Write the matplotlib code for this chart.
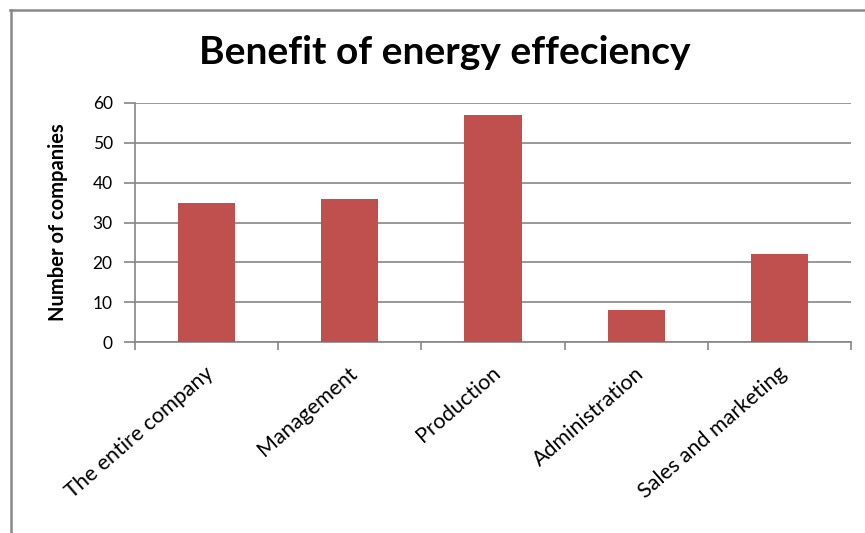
import numpy as np
import matplotlib.pyplot as plt
import matplotlib.transforms as mtransforms
from matplotlib.lines import Line2D

# Данные
departments = ['The entire company', 'Management', 'Production',
               'Administration', 'Sales and marketing']
companies = [35, 36, 57, 8, 22]

plt.rcParams['font.family'] = ['Lato', 'DejaVu Sans']

fig = plt.figure(figsize=(8.65, 5.33), dpi=100)
ax = fig.add_axes([0.156, 0.358, 0.828, 0.449])

x = np.arange(len(departments))
ax.bar(x, companies, width=0.4, color='#c0504d', zorder=3)

ax.set_xlim(-0.5, len(departments) - 0.5)
ax.set_ylim(0, 60)
ax.set_yticks(range(0, 61, 10))
ax.yaxis.grid(True, color='#868686', linewidth=1.2, zorder=0)

# Засечки между категориями, подписи по центру
ax.set_xticks(np.arange(-0.5, len(departments), 1.0))
ax.set_xticklabels([])
ax.set_xticks(x, minor=True)
ax.set_xticklabels(departments, minor=True, rotation=41, ha='right',
                   rotation_mode='anchor', fontsize=15.5)
ax.tick_params(axis='x', which='minor', length=0, pad=15)
ax.tick_params(axis='x', which='major', length=6, width=1.2, color='#868686')
ax.tick_params(axis='y', length=8, width=1.2, color='#868686', labelsize=12.5, pad=8)
shift = mtransforms.ScaledTranslation(-0.02, 0, fig.dpi_scale_trans)
for lbl in ax.get_xticklabels(minor=True):
    lbl.set_transform(lbl.get_transform() + shift)

for side in ('top', 'right'):
    ax.spines[side].set_visible(False)
for side in ('left', 'bottom'):
    ax.spines[side].set_color('#868686')
    ax.spines[side].set_linewidth(1.2)

ax.set_ylabel('Number of companies', fontsize=14.5, fontweight='bold', labelpad=18)

fig.text(0.514, 0.902, 'Benefit of energy effeciency', ha='center', va='center',
         fontsize=28, fontweight='bold')

# Рамка диаграммы
fig.add_artist(Line2D([10.5 / 865, 10.5 / 865], [0, 1 - 10 / 533],
                      transform=fig.transFigure, color='#888888', linewidth=1.8))
fig.add_artist(Line2D([10 / 865, 1], [1 - 10 / 533, 1 - 10 / 533],
                      transform=fig.transFigure, color='#888888', linewidth=1.8))

fig.savefig('out.png', dpi=100)
